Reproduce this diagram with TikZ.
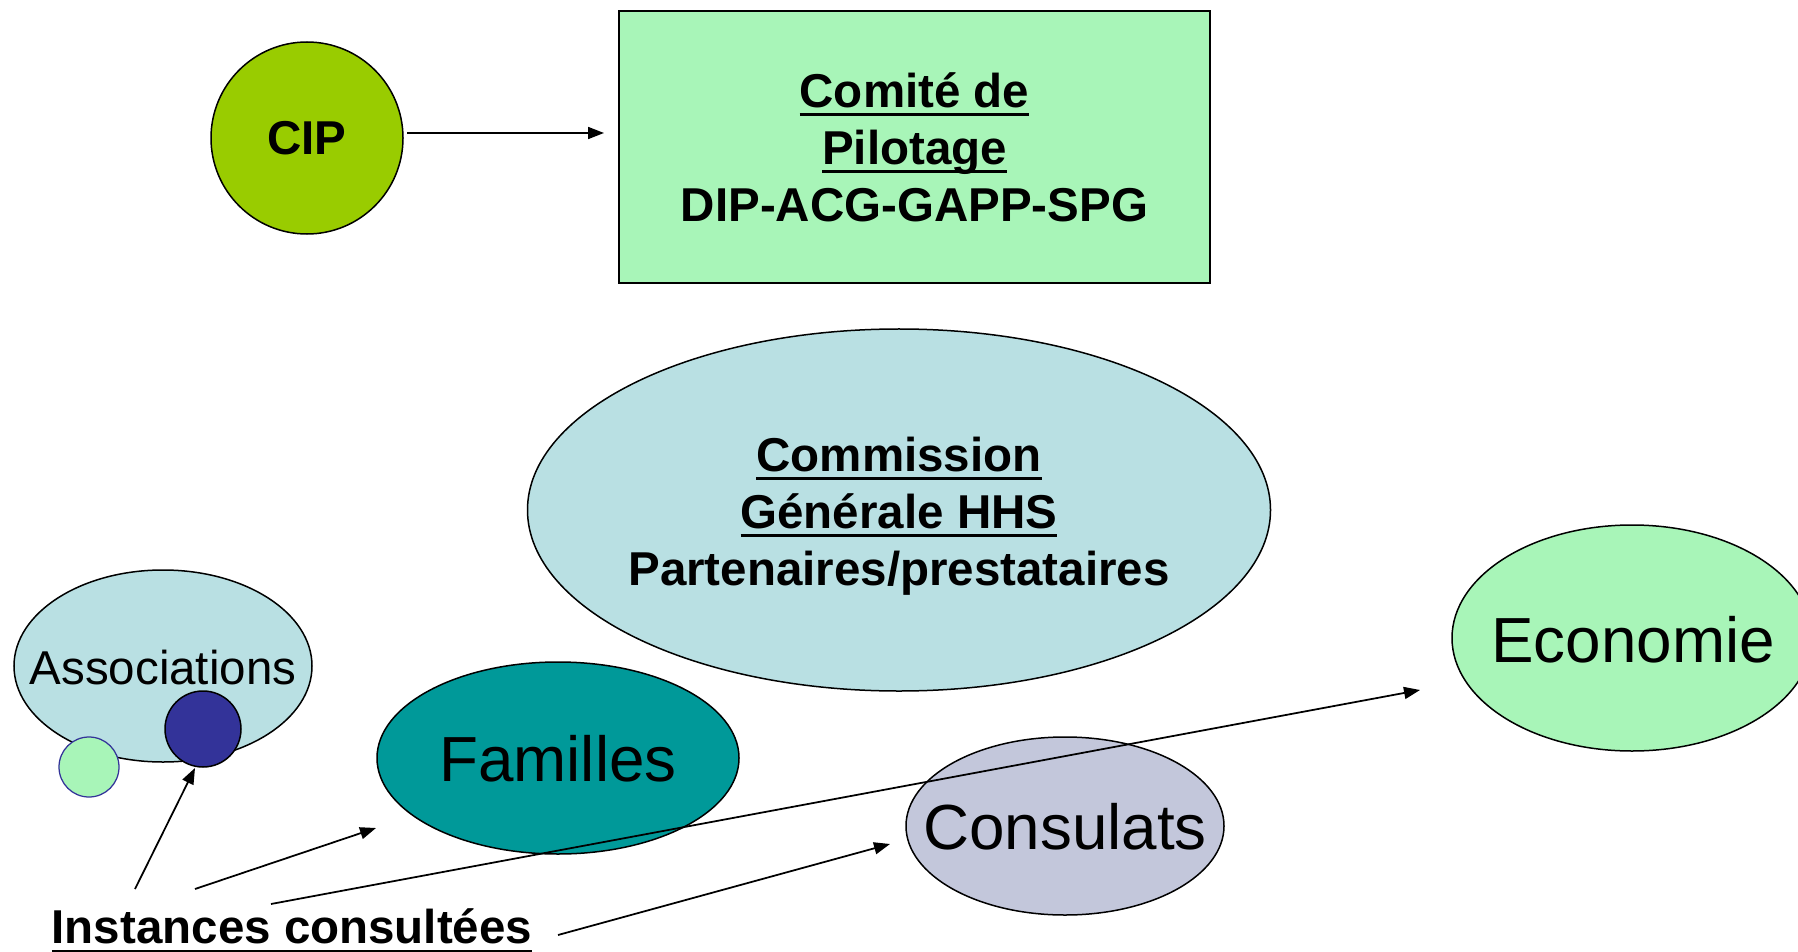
\documentclass[tikz,border=0pt]{standalone}
\usepackage{fontspec}
\setmainfont{Liberation Sans}
\usetikzlibrary{shapes.geometric,arrows.meta}
\definecolor{cipgreen}{HTML}{99CC00}
\definecolor{lightgreen}{HTML}{A8F5B8}
\definecolor{lightblue}{HTML}{B9E0E3}
\definecolor{teal}{HTML}{009999}
\definecolor{lavender}{HTML}{C3C7DB}
\definecolor{darkblue}{HTML}{333399}
\newcommand\myul[1]{\setbox0\hbox{#1}\rlap{\rule[-3.6pt]{\wd0}{1.2pt}}\box0}
\tikzset{
  bub/.style={ellipse,draw=black,line width=0.6pt,inner sep=0pt},
  boldtxt/.style={font=\fontsize{19}{22.8}\selectfont\bfseries,align=center},
  bigtxt/.style={font=\fontsize{25.5}{30}\selectfont},
  arr/.style={line width=0.7pt,-{Triangle[length=6.4pt,width=4.8pt]}}
}
\begin{document}
\begin{tikzpicture}[x=0.4pt,y=-0.4pt]
\useasboundingbox (0,0) rectangle (1798,952);
% top
\node[bub,circle,fill=cipgreen,minimum size=76.8pt,boldtxt] (cip) at (307,138) {CIP};
\node[draw=black,line width=0.6pt,fill=lightgreen,minimum width=236.4pt,minimum height=108.8pt,inner sep=0pt,boldtxt] (comite) at (914.5,147)
  {\myul{Comité de}\\\myul{Pilotage}\\DIP-ACG-GAPP-SPG};
\coordinate (cipout) at (407,133);
\coordinate (comitein) at (604,133);
\draw[arr] (cipout) -- (comitein);
% commission
\node[bub,fill=lightblue,minimum width=297.2pt,minimum height=144.8pt] (comm) at (899,510) {};
\node[boldtxt] (commtxt) at (899,516)
  {\myul{Commission}\\\myul{Générale HHS}\\Partenaires/prestataires};
% associations
\node[bub,fill=lightblue,minimum width=119.2pt,minimum height=76.8pt] (assoc) at (163,666) {};
\node[font=\fontsize{19}{22.8}\selectfont] (assoctxt) at (163,668) {Associations};
\node[bub,circle,fill=darkblue,minimum size=30.4pt] (blue) at (203,729) {};
\node[circle,draw=darkblue,line width=0.5pt,fill=lightgreen,minimum size=24pt,inner sep=0pt] (greenc) at (89,767) {};
% others
\node[bub,fill=teal,minimum width=144.8pt,minimum height=76.8pt] (fam) at (558,758) {};
\node[bigtxt] (famtxt) at (558,759) {Familles};
\node[bub,fill=lavender,minimum width=127.2pt,minimum height=71.2pt] (cons) at (1065,826) {};
\node[bigtxt] (constxt) at (1065,827) {Consulats};
\node[bub,fill=lightgreen,minimum width=144pt,minimum height=90.4pt] (eco) at (1632,638) {};
\node[bigtxt] (ecotxt) at (1633,640) {Economie};
% instances
\node[boldtxt] (inst) at (292,931) {\myul{Instances consultées}};
\coordinate (s1) at (135,889);
\coordinate (s2) at (195,889);
\coordinate (s3) at (271,904);
\coordinate (s4) at (558,935);
\coordinate (e1) at (195,768);
\coordinate (e2) at (376,828);
\coordinate (e3) at (1420,690);
\coordinate (e4) at (890,844);
\draw[arr] (s1) -- (e1);
\draw[arr] (s2) -- (e2);
\draw[arr] (s3) -- (e3);
\draw[arr] (s4) -- (e4);
\end{tikzpicture}
\end{document}
